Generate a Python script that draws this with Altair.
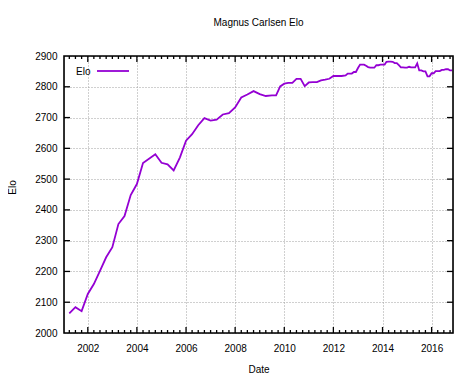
import altair as alt
import pandas as pd

# ---- data ----
dates = [
    "2001-04", "2001-07", "2001-10",
    "2002-01", "2002-04", "2002-07", "2002-10",
    "2003-01", "2003-04", "2003-07", "2003-10",
    "2004-01", "2004-04", "2004-10",
    "2005-01", "2005-04", "2005-07", "2005-10",
    "2006-01", "2006-04", "2006-07", "2006-10",
    "2007-01", "2007-04", "2007-07", "2007-10",
    "2008-01", "2008-04", "2008-07", "2008-10",
    "2009-01", "2009-04", "2009-07", "2009-09", "2009-11",
    "2010-01", "2010-03", "2010-05", "2010-07", "2010-09", "2010-11",
    "2011-01", "2011-03", "2011-05", "2011-07", "2011-09", "2011-11",
    "2012-01", "2012-03", "2012-05", "2012-07", "2012-08", "2012-09", "2012-10", "2012-11", "2012-12",
    "2013-01", "2013-02", "2013-03", "2013-04", "2013-05", "2013-06",
    "2013-07", "2013-08", "2013-09", "2013-10", "2013-11", "2013-12",
    "2014-01", "2014-02", "2014-03", "2014-04", "2014-05", "2014-06",
    "2014-07", "2014-08", "2014-09", "2014-10", "2014-11", "2014-12",
    "2015-01", "2015-02", "2015-03", "2015-04", "2015-05", "2015-06",
    "2015-07", "2015-08", "2015-09", "2015-10", "2015-11", "2015-12",
    "2016-01", "2016-02", "2016-03", "2016-04", "2016-05", "2016-06",
    "2016-07", "2016-08", "2016-09", "2016-10", "2016-11",
]
elo = [
    2064, 2084, 2071,
    2127, 2159, 2202, 2246,
    2279, 2354, 2380, 2448,
    2484, 2552, 2581,
    2553, 2548, 2528, 2570,
    2625, 2646, 2675, 2698,
    2690, 2693, 2710, 2714,
    2733, 2765, 2775, 2786,
    2776, 2770, 2772, 2772, 2801,
    2810, 2813, 2813, 2826, 2826, 2802,
    2814, 2815, 2815, 2821, 2823, 2826,
    2835, 2835, 2835, 2837, 2843, 2843, 2843, 2848, 2848,
    2861, 2872, 2872, 2872, 2868, 2864,
    2862, 2862, 2862, 2870, 2870, 2872,
    2872, 2872, 2881, 2882, 2882, 2881,
    2877, 2877, 2870, 2863, 2863, 2862,
    2862, 2865, 2863, 2863, 2863, 2876,
    2853, 2853, 2850, 2850, 2834, 2834,
    2844, 2844, 2851, 2851, 2851, 2855,
    2855, 2857, 2857, 2853, 2853,
]
series_name = ["Elo"]
title_text = "Magnus Carlsen Elo"
x_title = "Date"
y_title = "Elo"
major_years = [2002, 2004, 2006, 2008, 2010, 2012, 2014, 2016]
y_ticks = [2000, 2100, 2200, 2300, 2400, 2500, 2600, 2700, 2800, 2900]

# ---- layout / style ----
W, H = 389, 277
COLOR = "#9400D3"
FONT = "Liberation Sans"

df = pd.DataFrame({"date": [d + "-01T00:00:00" for d in dates], "elo": elo})

x_dom = [alt.DateTime(year=2001, month=1, date=12), alt.DateTime(year=2016, month=11, date=14)]
xscale = alt.Scale(domain=x_dom, nice=False)
yscale = alt.Scale(domain=[2000, 2900], nice=False, zero=False)

x_axis = alt.Axis(
    values=[alt.DateTime(year=y, month=1, date=1) for y in major_years],
    format="%Y", labelFontSize=10, labelColor="#000", labelFont=FONT,
    labelPadding=10, ticks=False, tickSize=0, domain=False,
    grid=True, gridDash=[1, 2], gridColor="#a0a0a0", gridWidth=1,
    title=x_title, titleFontSize=10, titleFontWeight="normal", titleColor="#000",
    titleFont=FONT, titleX=W / 2, titleY=36, titleBaseline="middle",
    labelFlush=False, labelOverlap=False,
)
y_axis = alt.Axis(
    values=y_ticks, format="d", labelFontSize=10, labelColor="#000", labelFont=FONT,
    labelPadding=7, ticks=False, tickSize=0, domain=False,
    grid=True, gridDash=[1, 2], gridColor="#a0a0a0", gridWidth=1,
    title=y_title, titleFontSize=10, titleFontWeight="normal", titleColor="#000",
    titleFont=FONT, titleX=-52, titleY=131, titleAngle=-90, titleBaseline="middle",
    labelFlush=False, labelOverlap=False,
)

X = alt.X("date:T", scale=xscale, axis=x_axis)
Y = alt.Y("elo:Q", scale=yscale, axis=y_axis)

line = alt.Chart(df).mark_line(color=COLOR, strokeWidth=1.8).encode(x=X, y=Y)

# tick positions
major_df = pd.DataFrame({"date": [f"{y}-01-01T00:00:00" for y in major_years]})
minor_dates = []
for y in range(2001, 2017):
    for m in (1, 4, 7, 10):
        if m == 1 and y in major_years:
            continue
        if (y == 2001 and m == 1) or (y == 2016 and m > 10):
            continue
        minor_dates.append(f"{y}-{m:02d}-01T00:00:00")
minor_df = pd.DataFrame({"date": minor_dates})
ytick_df = pd.DataFrame({"elo": y_ticks[1:-1]})


def xrule(data, y0, y1):
    return alt.Chart(data).mark_rule(color="black", strokeWidth=1.3).encode(
        x=X, y=alt.value(y0), y2=alt.value(y1),
    )


def yrule(x0, x1):
    return alt.Chart(ytick_df).mark_rule(color="black", strokeWidth=1.3).encode(
        y=Y, x=alt.value(x0), x2=alt.value(x1),
    )


ticks = [
    xrule(major_df, H, H - 6), xrule(major_df, 0, 6),
    xrule(minor_df, H, H - 3), xrule(minor_df, 0, 3),
    yrule(0, 6), yrule(W - 6, W),
]

leg_df = pd.DataFrame({"label": series_name})
leg_text = alt.Chart(leg_df).mark_text(
    align="left", baseline="middle", fontSize=10, font=FONT, color="#000"
).encode(x=alt.value(12), y=alt.value(16), text="label:N")
leg_line = alt.Chart(leg_df).mark_rule(color=COLOR, strokeWidth=1.8).encode(
    x=alt.value(33), x2=alt.value(65), y=alt.value(15)
)

border = alt.Chart(leg_df).mark_rect(filled=False, stroke="black", strokeWidth=1.6).encode(
    x=alt.value(0), x2=alt.value(W), y=alt.value(0), y2=alt.value(H)
)

chart = alt.layer(line, *ticks, leg_text, leg_line, border).properties(
    width=W, height=H,
    title=alt.TitleParams(title_text, fontSize=10, font=FONT, fontWeight="normal",
                          color="#000", anchor="middle", frame="group", offset=13,
                          baseline="bottom"),
    autosize=alt.AutoSizeParams(type="none"),
    padding={"left": 56, "top": 48, "right": 13, "bottom": 45},
).configure_view(strokeWidth=0).configure(font=FONT, background="white")

chart.save("out.html", embed_options={"renderer": "svg", "actions": False})
